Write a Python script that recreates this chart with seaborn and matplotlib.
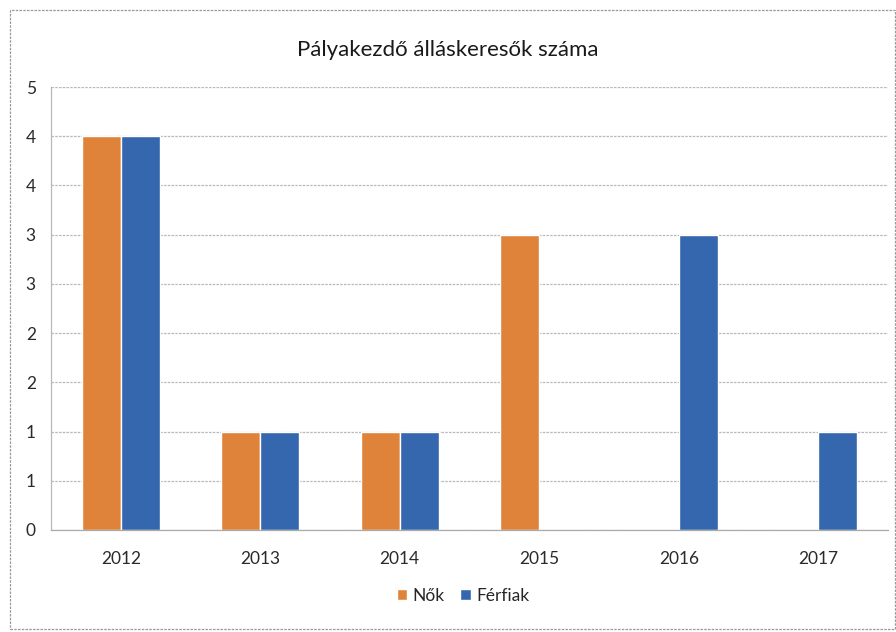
import numpy as np
import pandas as pd
import matplotlib
matplotlib.use("Agg")
import matplotlib.pyplot as plt
import seaborn as sns
from matplotlib.patches import Rectangle

# ── data ───────────────────────────────────────────────────────────────────
years    = ["2012", "2013", "2014", "2015", "2016", "2017"]
nok      = [4, 1, 1, 3, 0, 0]
ferfiak  = [4, 1, 1, 0, 3, 1]
y_ticks  = [0, 0.5, 1, 1.5, 2, 2.5, 3, 3.5, 4, 4.5]
y_labels = ["0", "1", "1", "2", "2", "3", "3", "4", "4", "5"]   # Excel-rounded labels

ORANGE = "#E0833A"
BLUE   = "#3467AE"

df = pd.DataFrame({
    "year":  years * 2,
    "value": nok + ferfiak,
    "group": ["Nők"] * len(years) + ["Férfiak"] * len(years),
})

sns.set_theme(style="white")
plt.rcParams["font.family"] = ["Lato", "DejaVu Sans"]

fig = plt.figure(figsize=(8.96, 6.32), dpi=100)
ax = fig.add_axes([51 / 896, 1 - 530 / 632, 837 / 896, 443 / 632])

sns.barplot(data=df, x="year", y="value", hue="group", order=years,
            hue_order=["Nők", "Férfiak"], palette=[ORANGE, BLUE],
            width=0.56, saturation=1, ax=ax, legend=True)

ax.set_ylim(0, 4.5)
ax.set_xlim(-0.5, len(years) - 0.5)
ax.set_yticks(y_ticks)
ax.set_yticklabels(y_labels)
ax.yaxis.grid(True, color="#b8b8b8", linewidth=0.9, linestyle=(0, (2, 1)))
ax.set_axisbelow(True)
ax.set_xlabel("")
ax.set_ylabel("")
ax.tick_params(axis="both", labelsize=12.5, colors="#2a2a2a", length=0)
ax.tick_params(axis="y", pad=11)
ax.tick_params(axis="x", pad=15)
ax.set_xticks(np.arange(-0.5, len(years), 1.0), minor=True)
ax.tick_params(axis="x", which="minor", length=5, color="#aaaaaa", width=0.8)

for s in ["top", "right"]:
    ax.spines[s].set_visible(False)
ax.spines["left"].set_color("#b8b8b8")
ax.spines["left"].set_linestyle((0, (2, 1)))
ax.spines["left"].set_linewidth(0.9)
ax.spines["bottom"].set_color("#aaaaaa")
ax.spines["bottom"].set_linewidth(0.9)

fig.text(0.5, 1 - 50 / 632, "Pályakezdő álláskeresők száma", ha="center",
         va="center", fontsize=16, color="#1a1a1a")

handles, labels = ax.get_legend_handles_labels()
ax.legend_.remove()
fig.legend(handles, labels, loc="center", bbox_to_anchor=(463 / 896, 1 - 596 / 632),
           ncol=2, frameon=False, fontsize=12.5, handlelength=0.6,
           handleheight=0.6, handletextpad=0.3, columnspacing=0.9)

# outer chart frame
fig.patches.append(Rectangle((10 / 896, 3 / 632), 885 / 896, 619 / 632,
                             transform=fig.transFigure, fill=False,
                             edgecolor="#999999", linewidth=0.9,
                             linestyle=(0, (2, 1))))

fig.savefig("out.png", dpi=100)
